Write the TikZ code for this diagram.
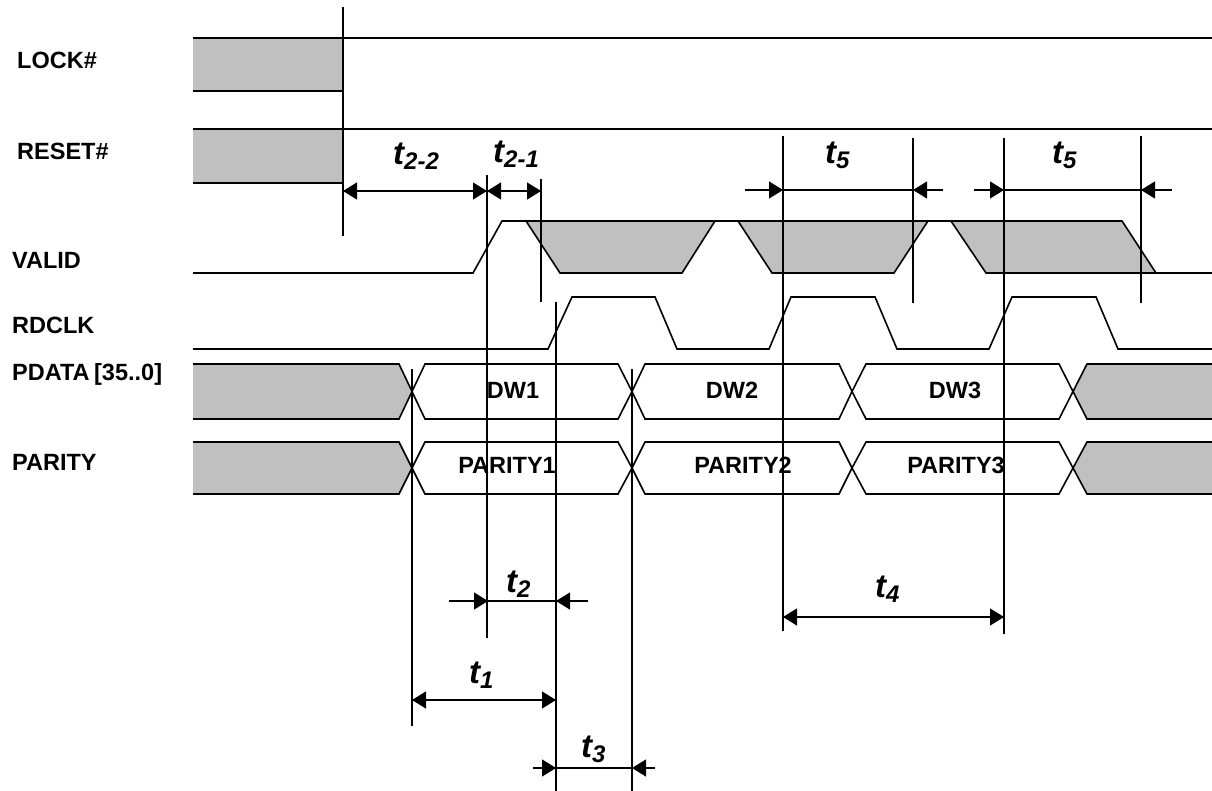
\documentclass[tikz,border=0pt]{standalone}
\usepackage{fontspec}
\setmainfont{Liberation Sans}
\usetikzlibrary{arrows.meta}
\definecolor{shadegray}{HTML}{C0C0C0}
\newcommand\TLab[1]{{\fontsize{33}{33}\selectfont\bfseries\itshape t\raisebox{-5pt}{\fontsize{24}{24}\selectfont #1}}}
\begin{document}
\begin{tikzpicture}[x=1pt,y=-1pt,
  sig/.style={line width=1.6pt},
  vl/.style={line width=1.3pt},
  dimline/.style={line width=1.3pt},
  hd/.style={-{Triangle[length=14pt,width=17pt]}},
  both/.style={{Triangle[length=14pt,width=17pt]}-{Triangle[length=14pt,width=17pt]}},
  lbl/.style={font=\bfseries\fontsize{23.5}{26}\selectfont, inner sep=0pt, anchor=base west},
  txt/.style={font=\bfseries\fontsize{23.5}{26}\selectfont, inner sep=0pt, anchor=base},
  tl/.style={inner sep=0pt, anchor=base west},
  shade/.style={fill=shadegray}]
\useasboundingbox (0,0) rectangle (1212,791);

% signal names
\node[lbl] (lock)   at (17,69)  {LOCK\#};
\node[lbl] (reset)  at (17,160) {RESET\#};
\node[lbl] (valid)  at (12,269) {VALID};
\node[lbl] (rdclk)  at (12,334) {RDCLK};
\node[lbl] (pdata)  at (12,380) {PDATA\hspace{-2pt} [35..0]};
\node[lbl] (parity) at (12,470) {PARITY};

% LOCK# and RESET#
\fill[shade] (193,38) rectangle (343,91);
\fill[shade] (193,129) rectangle (343,183);
\draw[sig] (193,38) -- (343,38);
\draw[vl] (343,38) -- (1212,38);
\draw[sig] (193,91) -- (343,91);
\draw[sig] (193,129) -- (343,129);
\draw[vl] (343,129) -- (1212,129);
\draw[sig] (193,183) -- (343,183);

% VALID
\filldraw[shade,sig] (526,221) -- (560,273) -- (682,273) -- (715,221);
\filldraw[shade,sig] (738,221) -- (772,273) -- (894,273) -- (928,221);
\fill[shade] (951,221) -- (986,273) -- (1156,273) -- (1122,221) -- cycle;
\draw[sig] (951,221) -- (986,273) -- (1156,273);
\draw[sig] (193,273) -- (473,273) -- (502,221) -- (1122,221) -- (1156,273) -- (1212,273);

% RDCLK
\draw[sig] (193,349) -- (548,349) -- (572,297) -- (655,297) -- (677,349) -- (769,349)
  -- (791,297) -- (875,297) -- (897,349) -- (989,349) -- (1012,297) -- (1096,297)
  -- (1118,349) -- (1212,349);

% buses
\foreach \T/\B/\M in {364/419/391.5, 442/494/468}{
  \filldraw[shade,sig] (193,\T) -- (399,\T) -- (412,\M) -- (399,\B) -- (193,\B);
  \draw[sig] (412,\M) -- (425,\T) -- (618,\T) -- (632,\M) -- (618,\B) -- (425,\B) -- cycle;
  \draw[sig] (632,\M) -- (645,\T) -- (839,\T) -- (852,\M) -- (839,\B) -- (645,\B) -- cycle;
  \draw[sig] (852,\M) -- (866,\T) -- (1059,\T) -- (1073,\M) -- (1059,\B) -- (866,\B) -- cycle;
  \filldraw[shade,sig] (1212,\T) -- (1087,\T) -- (1073,\M) -- (1087,\B) -- (1212,\B);
}
\node[txt] (dw1) at (513,398) {DW1};
\node[txt] (dw2) at (732,398) {DW2};
\node[txt] (dw3) at (955,398) {DW3};
\node[txt] (par1) at (507,473) {PARITY1};
\node[txt] (par2) at (743,473) {PARITY2};
\node[txt] (par3) at (956,473) {PARITY3};

% vertical reference lines
\draw[vl] (343,7) -- (343,236);
\draw[vl] (487,175) -- (487,638);
\draw[vl] (541,179) -- (541,302);
\draw[vl] (556,302) -- (556,791);
\draw[vl] (412,369) -- (412,726);
\draw[vl] (632,369) -- (632,791);
\draw[vl] (783,136) -- (783,631);
\draw[vl] (913,138) -- (913,303);
\draw[vl] (1004,138) -- (1004,634);
\draw[vl] (1141,136) -- (1141,303);

% dimension arrows
\draw[dimline,both] (343,191) -- (487,191);
\draw[dimline,both] (487,191) -- (541,191);

\draw[dimline] (745,190) -- (943,190);
\draw[dimline,hd] (745,190) -- (783,190);
\draw[dimline,hd] (943,190) -- (913,190);
\draw[dimline] (974,190) -- (1172,190);
\draw[dimline,hd] (974,190) -- (1004,190);
\draw[dimline,hd] (1172,190) -- (1141,190);

\draw[dimline] (449,601) -- (588,601);
\draw[dimline,hd] (449,601) -- (488,601);
\draw[dimline,hd] (588,601) -- (556,601);

\draw[dimline,both] (412,700) -- (556,700);

\draw[dimline] (533,768) -- (655,768);
\draw[dimline,hd] (533,768) -- (556,768);
\draw[dimline,hd] (655,768) -- (632,768);

\draw[dimline,both] (783,617) -- (1004,617);

% timing labels
\node[tl] (t22) at (393,165) {\TLab{2-2}};
\node[tl] (t21) at (493,163) {\TLab{2-1}};
\node[tl] (t5a) at (825,164) {\TLab{5}};
\node[tl] (t5b) at (1052,164) {\TLab{5}};
\node[tl] (t2)  at (506,592) {\TLab{2}};
\node[tl] (t1)  at (469,683) {\TLab{1}};
\node[tl] (t3)  at (581,757) {\TLab{3}};
\node[tl] (t4)  at (875,597) {\TLab{4}};
\end{tikzpicture}
\end{document}
